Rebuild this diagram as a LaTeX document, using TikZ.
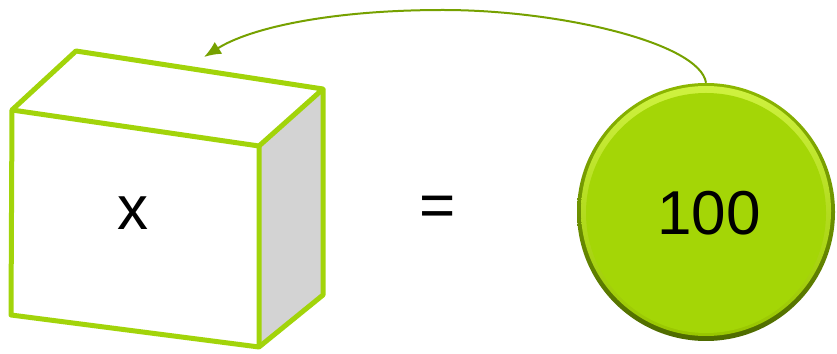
\documentclass[tikz,border=0pt]{standalone}
\usepackage{fontspec}
\setmainfont{Liberation Sans}
\usetikzlibrary{arrows.meta}
\definecolor{boxgreen}{HTML}{A2D40A}
\definecolor{arrowgreen}{HTML}{76A100}
\definecolor{ballfill}{HTML}{A4D606}
\definecolor{balldark}{HTML}{4E6A00}
\definecolor{ballmid}{HTML}{8DB800}
\definecolor{balllight}{HTML}{CFF240}
\definecolor{ballring}{HTML}{98C600}
\definecolor{sidegray}{HTML}{D3D3D3}
\tikzset{
  edge/.style={draw=boxgreen, line width=5pt, line join=round},
  bigtext/.style={font=\fontsize{62}{74}\selectfont, text=black},
  link/.style={draw=arrowgreen, line width=2pt, -{Latex[length=17pt,width=14pt]}},
}
\begin{document}
\begin{tikzpicture}[x=1pt,y=1pt]
\useasboundingbox (0,0) rectangle (837,353);
% box (image y flipped: Y = 353 - y)
\coordinate (ftl) at (12,243);
\coordinate (ftr) at (259,207);
\coordinate (fbr) at (259,6);
\coordinate (fbl) at (11,38);
\coordinate (btl) at (76,302);
\coordinate (btr) at (323,264);
\coordinate (bbr) at (323,58);
\fill[sidegray] (ftr) -- (btr) -- (bbr) -- (fbr) -- cycle;
\fill[white] (ftl) -- (btl) -- (btr) -- (ftr) -- cycle;
\draw[edge] (ftl) -- (ftr) -- (fbr) -- (fbl) -- cycle;
\draw[edge] (ftl) -- (btl) -- (btr) -- (ftr);
\draw[edge] (btr) -- (bbr) -- (fbr);
\node[bigtext] (x) at (133,140) {x};
% equals
\node[bigtext] (eq) at (438,142) {=};
% ball
\shade[top color=ballmid, bottom color=balldark] (706,141) circle (129);
\shade[top color=balllight, bottom color=ballring] (706,142) circle (125);
\fill[ballfill] (706,140) circle (120);
\node[circle, minimum size=258pt, inner sep=0pt] (val) at (706,141) {};
\node[bigtext] (num) at (709,140) {100};
% arrow
\coordinate (tip) at (204,296);
\coordinate (peak) at (443,343);
\draw[link] (val.north) .. controls (700,310) and (560,343) .. (peak)
  .. controls (330,343) and (250,325) .. (tip);
\end{tikzpicture}
\end{document}
